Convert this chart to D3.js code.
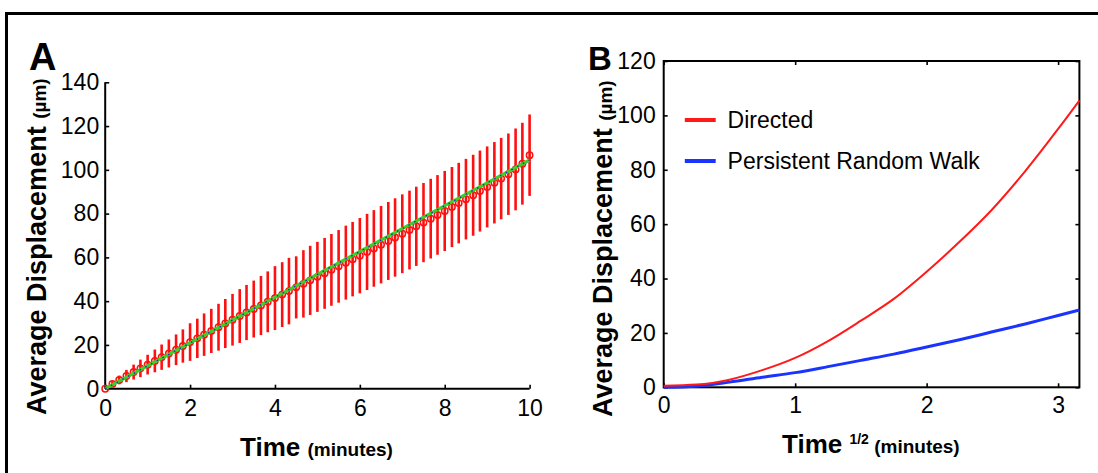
<!DOCTYPE html>
<html><head><meta charset="utf-8">
<script src="https://cdn.jsdelivr.net/npm/d3@7"></script>
<style>body{margin:0;background:#fff} svg{display:block} text{font-family:"Liberation Sans",Arial,Helvetica,sans-serif}</style>
</head><body><svg id="c" width="1098" height="473"></svg>
<script>
// ---- Panel A data: average displacement vs time (minutes) ----
const timeA = [0,0.17,0.33,0.5,0.67,0.83,1,1.17,1.33,1.5,1.67,1.83,2,2.17,2.33,2.5,2.67,2.83,3,3.17,3.33,3.5,3.67,3.83,4,4.17,4.33,4.5,4.67,4.83,5,5.17,5.33,5.5,5.67,5.83,6,6.17,6.33,6.5,6.67,6.83,7,7.17,7.33,7.5,7.67,7.83,8,8.17,8.33,8.5,8.67,8.83,9,9.17,9.33,9.5,9.67,9.83,10];
const meanA = [0,2.2,4.0,5.8,7.6,9.3,11.0,12.7,14.4,16.1,17.8,19.5,21.3,23.0,24.7,26.4,28.1,29.8,31.5,33.2,34.8,36.4,38.0,39.7,41.4,43.0,44.6,46.3,47.9,49.5,51.1,52.7,54.3,55.9,57.6,59.2,60.8,62.5,64.1,65.8,67.5,69.1,70.8,72.5,74.2,75.9,77.7,79.4,81.2,83.0,84.8,86.6,88.4,90.3,92.2,94.1,96.0,98.0,100.2,102.8,106.7];
const errA = [0,1.2,2.0,2.8,3.4,4.0,4.5,5.2,5.8,6.4,7.0,7.6,8.6,9.0,9.7,10.1,10.7,11.2,11.8,12.3,12.6,13.0,13.5,13.9,14.6,14.8,15.2,14.2,15.4,15.8,16.0,16.2,16.4,16.6,16.9,17.0,17.2,17.4,17.5,17.7,17.8,17.9,18.0,18.0,18.1,18.1,18.2,18.2,18.3,18.3,18.4,18.4,18.5,18.5,18.5,18.6,18.6,18.6,18.7,18.7,18.6];
const fitT = [0,10];
const fitY = [0,104.5];
const ticksAX = [0,2,4,6,8,10];
const ticksAY = [0,20,40,60,80,100,120,140];

// ---- Panel B data: displacement vs sqrt(time) ----
const sqrtT = [0,0.25,0.5,0.75,1.0,1.25,1.5,1.75,2.0,2.25,2.5,2.75,3.0,3.162];
const directed = [0.6,1.0,2.8,6.3,10.8,17.0,24.5,32.5,42.5,53.5,65.5,79.5,95.0,105.5];
const prw = [0.0,0.4,1.9,3.7,5.4,7.6,9.9,12.2,14.8,17.5,20.4,23.3,26.4,28.4];
const ticksBX = [0,1,2,3];
const ticksBY = [0,20,40,60,80,100,120];
const legendNames = ["Directed","Persistent Random Walk"];
const legendColors = ["#ff1a1a","#1a33ff"];

const svg = d3.select("#c");
const FF = '"Liberation Sans",Arial,Helvetica,sans-serif';

// outer frame
svg.append("rect").attr("x",6.5).attr("y",13.5).attr("width",1200).attr("height",600)
  .attr("fill","none").attr("stroke","#000").attr("stroke-width",3);

// ================= Panel A =================
const xA = d3.scaleLinear().domain([0,10]).range([105.2,529.6]);
const yA = d3.scaleLinear().domain([0,140]).range([388.7,82.3]);
const gA = svg.append("g");

const axAX = gA.append("g").attr("transform",`translate(0,${yA(0)})`)
  .call(d3.axisBottom(xA).tickValues(ticksAX).tickSize(-4).tickPadding(11).tickFormat(d3.format("d")));
const axAY = gA.append("g").attr("transform",`translate(${xA(0)},0)`)
  .call(d3.axisLeft(yA).tickValues(ticksAY).tickSize(-4).tickPadding(6).tickFormat(d3.format("d")));
[axAX,axAY].forEach(a=>{
  a.selectAll("path").attr("stroke-width",2);
  a.selectAll("line").attr("stroke-width",1.6);
  a.selectAll("text").attr("font-size",23).attr("font-family",FF).attr("fill","#000");
});
axAX.select(".domain").attr("d",`M${xA(0)},0H${xA(10)}`);
axAY.select(".domain").attr("d",`M0,${yA(140)}V${yA(0)}`);

// error bars
gA.append("g").selectAll("line").data(timeA).join("line")
  .attr("x1",(d)=>xA(d)).attr("x2",(d)=>xA(d))
  .attr("y1",(d,i)=>yA(meanA[i]-errA[i])).attr("y2",(d,i)=>yA(meanA[i]+errA[i]))
  .attr("stroke","#ff1010").attr("stroke-width",2.6);
// circles
gA.append("g").selectAll("circle").data(timeA).join("circle")
  .attr("cx",d=>xA(d)).attr("cy",(d,i)=>yA(meanA[i])).attr("r",3.2)
  .attr("fill","none").attr("stroke","#ff1010").attr("stroke-width",1.5);
// fit line
const fitLine = d3.line().x(d=>xA(d[0])).y(d=>yA(d[1]));
const fitPts = fitT.map((t,i)=>[t,fitY[i]]);
gA.append("path").attr("d",fitLine(fitPts)).attr("fill","none").attr("stroke","#3ccf2a").attr("stroke-width",3.2);
gA.append("path").attr("d",fitLine(fitPts)).attr("fill","none").attr("stroke","#2030c0").attr("stroke-width",1.4).attr("stroke-dasharray","1.5,5");

// labels A
svg.append("text").attr("x",29).attr("y",70).attr("font-size",38).attr("font-weight","bold").attr("font-family",FF).text("A");
const ylA = svg.append("text").attr("transform","translate(46,415) rotate(-90)").attr("font-weight","bold").attr("font-family",FF).attr("font-size",27);
ylA.append("tspan").text("Average Displacement ");
ylA.append("tspan").attr("font-size",19).text("(µm)");
const xlA = svg.append("text").attr("x",240).attr("y",456).attr("font-weight","bold").attr("font-family",FF).attr("font-size",26);
xlA.append("tspan").text("Time ");
xlA.append("tspan").attr("font-size",19).text("(minutes)");

// ================= Panel B =================
const xB = d3.scaleLinear().domain([0,3.162]).range([663.7,1079.4]);
const yB = d3.scaleLinear().domain([0,120]).range([387.3,61]);
const gB = svg.append("g");
const axBX = gB.append("g").attr("transform",`translate(0,${yB(0)})`)
  .call(d3.axisBottom(xB).tickValues(ticksBX).tickSize(-4).tickPadding(9).tickFormat(d3.format("d")));
const axBY = gB.append("g").attr("transform",`translate(${xB(0)},0)`)
  .call(d3.axisLeft(yB).tickValues(ticksBY).tickSize(-4).tickPadding(8).tickFormat(d3.format("d")));
const axBT = gB.append("g").attr("transform",`translate(0,${yB(120)})`)
  .call(d3.axisTop(xB).tickValues(ticksBX).tickSize(-4).tickFormat(""));
const axBR = gB.append("g").attr("transform",`translate(${xB(3.162)},0)`)
  .call(d3.axisRight(yB).tickValues(ticksBY).tickSize(-4).tickFormat(""));
[axBX,axBY,axBT,axBR].forEach(a=>{
  a.select(".domain").remove();
  a.selectAll("line").attr("stroke-width",1.6);
  a.selectAll("text").attr("font-size",23).attr("font-family",FF).attr("fill","#000");
});
gB.append("rect").attr("x",xB(0)).attr("y",yB(120)).attr("width",xB(3.162)-xB(0)).attr("height",yB(0)-yB(120))
  .attr("fill","none").attr("stroke","#000").attr("stroke-width",2);

const lineB = d3.line().x((d,i)=>xB(sqrtT[i])).y(d=>yB(d)).curve(d3.curveMonotoneX);
gB.append("path").attr("d",lineB(prw)).attr("fill","none").attr("stroke",legendColors[1]).attr("stroke-width",3);
gB.append("path").attr("d",lineB(directed)).attr("fill","none").attr("stroke",legendColors[0]).attr("stroke-width",2);

// legend
const lg = gB.append("g");
legendNames.forEach((n,i)=>{
  const y = 120 + i*41;
  lg.append("line").attr("x1",684.8).attr("x2",715.7).attr("y1",y).attr("y2",y).attr("stroke",legendColors[i]).attr("stroke-width",4);
  lg.append("text").attr("x",727.6).attr("y",y+8.3).attr("font-size",23).attr("font-family",FF).text(n);
});

svg.append("text").attr("x",588).attr("y",70).attr("font-size",33).attr("font-weight","bold").attr("font-family",FF).text("B");
const ylB = svg.append("text").attr("transform","translate(612,417) rotate(-90)").attr("font-weight","bold").attr("font-family",FF).attr("font-size",27);
ylB.append("tspan").text("Average Displacement ");
ylB.append("tspan").attr("font-size",19).text("(µm)");
const xlB = svg.append("text").attr("x",782).attr("y",453).attr("font-weight","bold").attr("font-family",FF).attr("font-size",26);
xlB.append("tspan").text("Time ");
xlB.append("tspan").attr("font-size",14).attr("dy",-9).text("1/2");
xlB.append("tspan").attr("font-size",19).attr("dy",9).text(" (minutes)");
</script></body></html>
